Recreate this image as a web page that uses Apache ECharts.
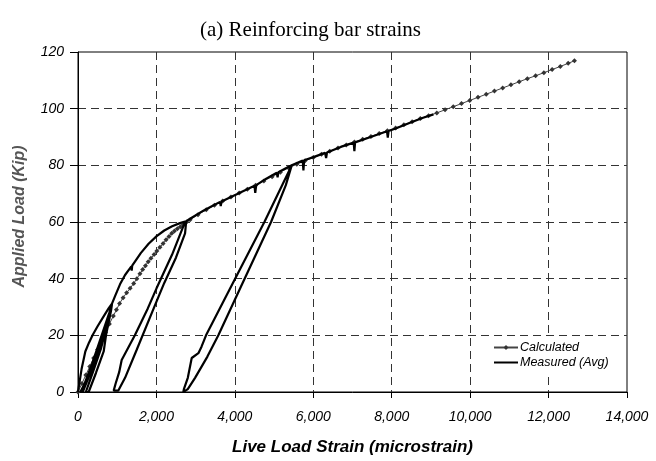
<!DOCTYPE html>
<html>
<head>
<meta charset="utf-8">
<script src="https://cdn.jsdelivr.net/npm/echarts@6/dist/echarts.min.js"></script>
<style>
html,body{margin:0;padding:0;background:#fff;}
#chart{width:656px;height:461px;}
</style>
</head>
<body>
<div id="chart"></div>
<script>
// ---- data ----
var xTickLabels = ['0','2,000','4,000','6,000','8,000','10,000','12,000','14,000'];
var yTickLabels = ['0','20','40','60','80','100','120'];
var seriesNames = ['Calculated','Measured (Avg)'];

// Calculated: [strain (microstrain), load (kip)]
var calculated = [
  [0,0],[100,3],[200,6],[300,9],[400,12],[500,15],[600,18],[700,21],[800,24],[900,26.8],
  [980,29],[1060,31.2],[1150,33.3],[1240,35],[1330,36.6],[1420,38.3],[1500,40],[1580,41.7],
  [1650,43.2],[1720,44.6],[1790,46],[1860,47.2],[1940,48.5],[2010,49.8],[2090,51.1],[2170,52.4],
  [2245,53.7],[2320,54.9],[2390,56],[2460,56.8],[2534,57.6],[2610,58.3],[2686,59.1],[2770,60],
  [2860,60.8],[3060,62.6],[3270,64.3],[3480,65.9],[3690,67.4],[3900,68.8],[4110,70.2],[4320,71.6],
  [4530,73.0],[4740,74.5],[4950,76.0],[5160,77.6],[5370,79.1],[5580,80.4],[5790,81.6],[6000,82.8],
  [6210,83.9],[6420,85.0],[6630,86.1],[6840,87.2],[7050,88.2],[7260,89.2],[7470,90.2],[7680,91.2],
  [7890,92.2],[8100,93.2],[8310,94.3],[8520,95.4],[8730,96.5],[8940,97.5],[9150,98.5],[9360,99.6],
  [9570,100.7],[9780,101.8],[9990,102.9],[10200,104.0],[10410,105.1],[10620,106.2],[10830,107.3],
  [11040,108.4],[11250,109.5],[11460,110.6],[11670,111.6],[11880,112.7],[12090,113.8],[12300,114.9],
  [12500,116.0],[12660,116.9]
];

// Measured (Avg), in test order
var measuredEnvelope1 = [[0,0],[90,8],[187,14.3],[280,17.4],[374,20.1],[500,23.2],[650,26.6],[780,29.5],[867,31.2]];
var measuredCycle1 = [[800,28],[580,19],[360,10],[170,3],[60,0],[120,0],[310,6.5],[520,14.5],[720,23.5],[867,31],
  [840,28.5],[720,20.5],[655,14.3],[460,6.8],[272,0],[200,0],[380,7],[590,15.5],[780,26],[867,31.2]];
var measuredEnvelope2 = [[950,34],[1071,38],[1200,41.3],[1300,43.2],[1360,44.3],[1370,42.8],[1382,44.6],[1500,47],
  [1600,49],[1800,52.3],[2006,55],[2200,57],[2400,58.5],[2600,59.6],[2730,60.2]];
var measuredCycle2 = [[2700,59],[2400,48.5],[2000,36.5],[1780,29.5],[1450,20],[1114,11.3],[1050,7],[960,3],[910,0.5],
  [950,0],[1029,0.5],[1200,5],[1500,15],[1930,29.5],[2200,38.5],[2500,47.5],[2730,56],[2760,60.3]];
var measuredEnvelope3 = [[2900,61.5],[3197,64],[3400,65.5],[3622,67.1],[3640,65.6],[3660,67.2],[4048,69.8],[4300,71.5],
  [4500,72.8],[4520,70.3],[4545,73],[4800,75.3],[5069,77.4],[5090,75.8],[5110,77.6],[5300,79],[5450,80]];
var measuredCycle3 = [[5400,78.5],[4753,60],[3878,36.5],[3265,20],[3150,16],[3070,13.7],[2900,12],[2800,5],[2700,1],
  [2686,0],[2720,0],[2800,1],[2985,5],[3300,12.5],[3579,20],[4133,36.5],[4923,60],[5300,73],[5450,80]];
var measuredEnvelope4 = [[5500,80.5],[5730,81.7],[5748,78.2],[5768,81.8],[6003,82.9],[6300,84.4],[6327,82.6],[6350,84.5],
  [6700,86.5],[7030,88],[7048,85],[7066,88.1],[7500,90.2],[7880,92],[7900,89.8],[7920,92.1],[8100,93],[8500,95.2],
  [8800,96.8],[9064,98]];

var measured = [].concat(measuredEnvelope1, measuredCycle1, measuredEnvelope2, measuredCycle2,
                         measuredEnvelope3, measuredCycle3, measuredEnvelope4);

// ---- chart ----
var sans = "'Liberation Sans', Arial, sans-serif";
var chart = echarts.init(document.getElementById('chart'), null, {renderer:'canvas'});
chart.setOption({
  animation: false,
  backgroundColor: '#fff',
  title: {
    text: '(a) Reinforcing bar strains',
    left: 195, top: 15,
    textStyle: {fontFamily: "'Liberation Serif', 'Times New Roman', serif", fontSize: 21, fontWeight: 'normal', color: '#000'}
  },
  grid: {left: 78, right: 29, top: 52, bottom: 67, show: true, borderColor: '#000', borderWidth: 1, backgroundColor: 'transparent'},
  legend: {
    data: [
      {name: seriesNames[0]},
      {name: seriesNames[1], itemStyle: {opacity: 0}}
    ],
    orient: 'vertical',
    left: 487, top: 337,
    backgroundColor: '#fff',
    padding: [3, 6, 3, 6],
    itemWidth: 24, itemHeight: 6, itemGap: 0,
    textStyle: {fontFamily: sans, fontSize: 12.5, fontStyle: 'italic', color: '#000', lineHeight: 15, padding: [0,0,0,-3]}
  },
  xAxis: {
    type: 'value', min: 0, max: 14000, interval: 2000,
    name: 'Live Load Strain (microstrain)', nameLocation: 'middle', nameGap: 47,
    nameTextStyle: {fontFamily: sans, fontSize: 17, fontStyle: 'italic', fontWeight: 'bold', color: '#000'},
    axisLine: {show: true, onZero: false, lineStyle: {color: '#000', width: 1}},
    axisTick: {show: true, length: 6, lineStyle: {color: '#000'}},
    axisLabel: {margin: 18, fontFamily: sans, fontSize: 14, fontStyle: 'italic', color: '#000',
      formatter: function (v) { return xTickLabels[Math.round(v / 2000)]; }},
    splitLine: {show: true, showMinLine: false, showMaxLine: false, lineStyle: {color: '#333', width: 1, type: [8, 5]}}
  },
  yAxis: {
    type: 'value', min: 0, max: 120, interval: 20,
    name: 'Applied Load (Kip)', nameLocation: 'middle', nameGap: 50, nameRotate: 90,
    nameTextStyle: {fontFamily: sans, fontSize: 16, fontStyle: 'italic', fontWeight: 'bold', color: '#555', padding: [0,0,0,11]},
    axisLine: {show: true, onZero: false, lineStyle: {color: '#000', width: 1}},
    axisTick: {show: true, length: 8, lineStyle: {color: '#000'}},
    axisLabel: {margin: 14, fontFamily: sans, fontSize: 14, fontStyle: 'italic', color: '#000',
      formatter: function (v) { return yTickLabels[Math.round(v / 20)]; }},
    splitLine: {show: true, showMinLine: false, showMaxLine: false, lineStyle: {color: '#333', width: 1, type: [8, 5]}}
  },
  series: [
    {
      name: seriesNames[0], type: 'line', data: calculated,
      symbol: 'diamond', symbolSize: 5, showSymbol: true,
      lineStyle: {color: '#444', width: 1},
      itemStyle: {color: '#333'},
      z: 2
    },
    {
      name: seriesNames[1], type: 'line', data: measured,
      symbol: 'none',
      lineStyle: {color: '#000', width: 2.2},
      itemStyle: {color: '#000'},
      z: 3
    }
  ]
});
</script>
</body>
</html>
